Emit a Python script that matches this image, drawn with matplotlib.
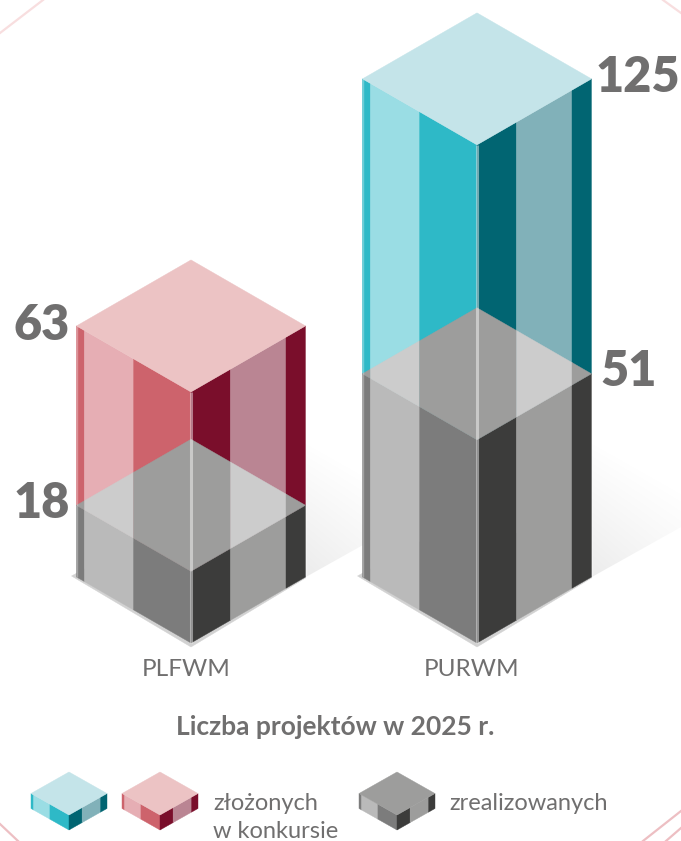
import numpy as np
import matplotlib
matplotlib.use('Agg')
import matplotlib.pyplot as plt
from matplotlib.patches import Polygon

# dane
categories = ['PLFWM', 'PURWM']
submitted = [63, 125]
realized = [18, 51]

PX_PER_UNIT = 3.985
BASE_Y = 577
CENTERS = [191, 477]
HW, HH = 114.5, 66

# paski na scianach (przesuniecia od lewego naroznika / od srodka)
LEFT_EDGES = [0, 8, 57, 114.5]
RIGHT_EDGES = [0, 39.5, 95, 114.5]

RED = {'left': ['#CD636C', '#E6AEB4', '#CD636C'], 'right': ['#7A0E2B', '#BA8593', '#7A0E2B'], 'top': '#ECC3C4'}
BLUE = {'left': ['#2EB9C7', '#9ADDE4', '#2EB9C7'], 'right': ['#016572', '#81B1B9', '#016572'], 'top': '#C4E4E9'}
GRAY = {'left': ['#7C7C7C', '#BABABA', '#7C7C7C'], 'right': ['#3C3C3B', '#9D9D9C', '#3C3C3B'], 'top': '#9D9D9C'}
DIAMOND_COLS = ['#9D9D9C', '#CCCCCC', '#9D9D9C', '#CCCCCC', '#9D9D9C']
TXT = '#706F6F'

fig = plt.figure(figsize=(6.81, 8.41), dpi=100)
ax = fig.add_axes([0, 0, 1, 1])
ax.set_xlim(0, 681)
ax.set_ylim(841, 0)
ax.axis('off')


def poly(pts, color, z=2, **kw):
    ax.add_patch(Polygon(pts, closed=True, fc=color, ec=color, lw=0.3, zorder=z, **kw))


def prism_faces(cx, y0, y1, pal, hw=HW, hh=HH, z=3, s=1.0):
    # y0 dolny lewy naroznik, y1 gorny lewy naroznik
    for a, b, c in zip(LEFT_EDGES[:-1], LEFT_EDGES[1:], pal['left']):
        xa, xb = cx - hw + a * s, cx - hw + b * s
        da, db = a * s * hh / hw, b * s * hh / hw
        poly([(xa, y1 + da), (xb, y1 + db), (xb, y0 + db), (xa, y0 + da)], c, z)
    for a, b, c in zip(RIGHT_EDGES[:-1], RIGHT_EDGES[1:], pal['right']):
        xa, xb = cx + a * s, cx + b * s
        da, db = hh - a * s * hh / hw, hh - b * s * hh / hw
        poly([(xa, y1 + da), (xb, y1 + db), (xb, y0 + db), (xa, y0 + da)], c, z)


def diamond(cx, y, color, hw=HW, hh=HH, z=5, **kw):
    poly([(cx - hw, y), (cx, y - hh), (cx + hw, y), (cx, y + hh)], color, z, **kw)


def striped_diamond(cx, y, z=6):
    # szary romb widoczny przez przezroczyste sciany
    xs = [-HW, -HW + 8, -HW + 57, 39.5, 95, HW]
    for a, b, c in zip(xs[:-1], xs[1:], DIAMOND_COLS):
        pts_x = [a, b] if not (a < 0 < b) else [a, 0, b]
        top = [(cx + t, y - HH + abs(t) * HH / HW) for t in pts_x]
        bot = [(cx + t, y + HH - abs(t) * HH / HW) for t in pts_x[::-1]]
        poly(top + bot, c, z)


def shadow(cx, z=1):
    # cien na podlodze: gradient, przyciety do rownolegloboku
    x0 = cx + HW
    nx, ny = 220, 220
    ext = (x0 - 60, x0 + 160, BASE_Y + 25, BASE_Y - 195)
    xx, yy = np.meshgrid(np.linspace(ext[0], ext[1], nx), np.linspace(ext[3], ext[2], ny))
    above = (x0 - xx) * -0.56 + BASE_Y - yy
    alpha = np.clip(1 - above / 135, 0, 1) * np.clip(1 - (xx - x0) / 210, 0, 1) ** 0.6
    img = np.zeros((ny, nx, 4))
    img[..., :3] = 0.75
    img[..., 3] = 0.3 * alpha
    im = ax.imshow(img, extent=(ext[0], ext[1], ext[2], ext[3]), origin='upper', zorder=z, aspect='auto')
    clip = Polygon([(x0 - 30, BASE_Y + 17), (x0 + 170, BASE_Y - 95), (x0 + 170, BASE_Y - 200), (x0 - 30, BASE_Y - 200)],
                   closed=True, transform=ax.transData)
    im.set_clip_path(clip)


for cx in CENTERS:
    shadow(cx)

for i, (name, tot, real) in enumerate(zip(categories, submitted, realized)):
    cx = CENTERS[i]
    pal = RED if i == 0 else BLUE
    y_tot = BASE_Y - tot * PX_PER_UNIT
    y_real = BASE_Y - real * PX_PER_UNIT

    # podstawa
    poly([(cx - HW - 5, BASE_Y - 1), (cx, BASE_Y - HH), (cx + HW, BASE_Y - 1), (cx + HW, BASE_Y + 1),
          (cx, BASE_Y + HH + 4)], '#D2D2D2', 2)
    prism_faces(cx, y_real, y_tot, pal)
    prism_faces(cx, BASE_Y, y_real, GRAY)
    striped_diamond(cx, y_real)
    diamond(cx, y_tot, pal['top'], z=7)

    # jasne krawedzie
    ax.plot([cx, cx], [y_tot + HH, BASE_Y + HH], color='white', alpha=0.45, lw=2.2, zorder=8, solid_capstyle='butt')
    for ex in (cx - HW, cx + HW):
        ax.plot([ex, ex], [y_tot, BASE_Y], color='white', alpha=0.3, lw=1, zorder=8, solid_capstyle='butt')

ax.set_xlim(0, 681)
ax.set_ylim(841, 0)

# etykiety
num = dict(color=TXT, fontfamily='Lato', fontweight='heavy', fontsize=35, va='center')
ax.text(70, 326, str(submitted[0]), ha='right', **num)
ax.text(70, 504, str(realized[0]), ha='right', **num)
ax.text(680, 77, str(submitted[1]), ha='right', **num)
ax.text(600, 371, str(realized[1]), ha='left', **num)

lab = dict(color=TXT, fontfamily='Lato', fontsize=17.6, va='center', ha='center')
ax.text(186, 669, categories[0], **lab)
ax.text(472, 669, categories[1], **lab)
ax.text(335, 727, 'Liczba projektów w 2025 r.', color=TXT, fontfamily='Lato', fontweight='bold',
        fontsize=19, va='center', ha='center')


# legenda
def legend_block(cx, pal):
    top_y, thick = 793.5, 15
    hw, hh = 38, 21.5
    prism_faces(cx, top_y + thick, top_y, pal, hw=hw, hh=hh, s=hw / HW)
    diamond(cx, top_y, pal['top'], hw=hw, hh=hh, z=7)


legend_block(69, BLUE)
legend_block(160, RED)
legend_block(397, GRAY)

leg = dict(color=TXT, fontfamily='Lato', fontsize=17, va='center', ha='left')
ax.text(213, 804, 'złożonych', **leg)
ax.text(213, 832, 'w konkursie', **leg)
ax.text(449, 804, 'zrealizowanych', **leg)

# ozdobne linie w rogach
ax.plot([0, 43], [33, 0], color='#F8DEDF', lw=1.6, zorder=0)
ax.plot([663, 681], [0, 13], color='#F8DEDF', lw=1.6, zorder=0)
ax.plot([0, 18], [824, 841], color='#EDBFC3', lw=1.6, zorder=0)
ax.plot([643, 681], [841, 811], color='#EDBFC3', lw=1.6, zorder=0)
ax.plot([666, 681], [841, 828], color='#EDBFC3', lw=1.6, zorder=0)

fig.savefig('out.png', dpi=100)
